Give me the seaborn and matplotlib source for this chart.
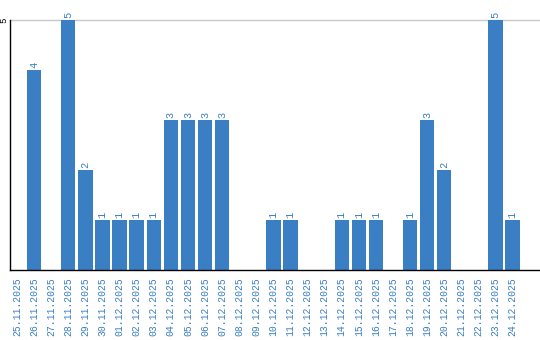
import matplotlib
matplotlib.use("Agg")
import matplotlib.pyplot as plt
import seaborn as sns
import pandas as pd

dates = ["25.11.2025", "26.11.2025", "27.11.2025", "28.11.2025", "29.11.2025",
         "30.11.2025", "01.12.2025", "02.12.2025", "03.12.2025", "04.12.2025",
         "05.12.2025", "06.12.2025", "07.12.2025", "08.12.2025", "09.12.2025",
         "10.12.2025", "11.12.2025", "12.12.2025", "13.12.2025", "14.12.2025",
         "15.12.2025", "16.12.2025", "17.12.2025", "18.12.2025", "19.12.2025",
         "20.12.2025", "21.12.2025", "22.12.2025", "23.12.2025", "24.12.2025"]
counts = [0, 4, 0, 5, 2, 1, 1, 1, 1, 3, 3, 3, 3, 0, 0, 1, 1, 0, 0, 1,
          1, 1, 0, 1, 3, 2, 0, 0, 5, 1]
yticks = [5]

BLUE = "#3a7fc3"
sns.set_style("white")
plt.rcParams["font.family"] = ["Liberation Mono", "DejaVu Sans"]

df = pd.DataFrame({"date": dates, "count": counts})
fig = plt.figure(figsize=(5.4, 3.4), dpi=100)
ax = fig.add_axes([10 / 540, 70 / 340, 530 / 540, 250 / 340])
sns.barplot(data=df, x="date", y="count", color=BLUE, saturation=1,
            width=0.84, ax=ax, order=dates, linewidth=0)

ax.set_ylim(0, 5)
ax.set_xlim(-0.41, len(dates) - 1 + 1.6)
ax.set_yticks(yticks)
ax.set_yticklabels([str(v) for v in yticks], rotation=90, va="center",
                   fontsize=6.5, color="black")
ax.axhline(5, color="#c8c8c8", lw=1, zorder=0, clip_on=False)
ax.tick_params(axis="y", length=0, pad=1)
ax.tick_params(axis="x", length=0, pad=5, labelrotation=90,
               labelsize=7, labelcolor=BLUE)
for lbl in ax.get_xticklabels():
    lbl.set_va("top")
ax.set_xlabel("")
ax.set_ylabel("")
for s in ["top", "right"]:
    ax.spines[s].set_visible(False)
for s in ["left", "bottom"]:
    ax.spines[s].set_color("black")
    ax.spines[s].set_linewidth(1)

for i, v in enumerate(counts):
    if v > 0:
        ax.text(i, v + 0.03, str(v), rotation=90, ha="center", va="bottom",
                fontsize=7.5, color=BLUE, clip_on=False)

fig.savefig("out.png", dpi=100)
